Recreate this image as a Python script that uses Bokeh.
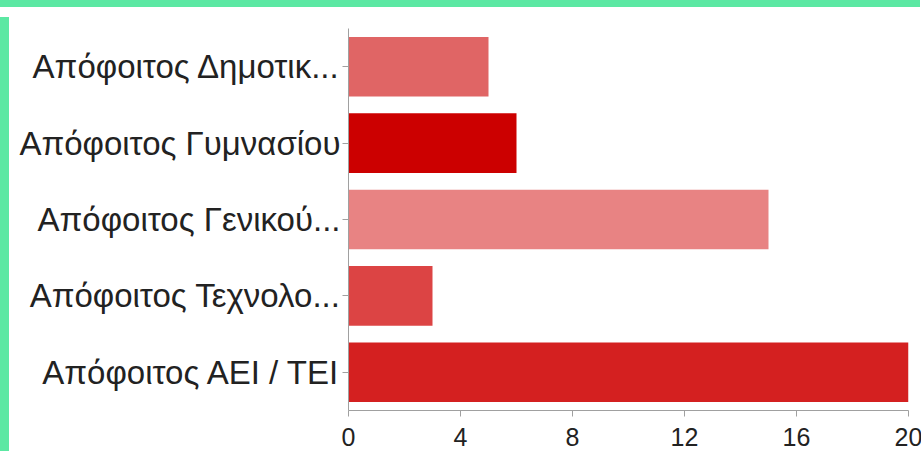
from bokeh.plotting import figure
from bokeh.models import FactorRange, Range1d, ColumnDataSource, FixedTicker, Div
from bokeh.layouts import column, row
from bokeh.embed import file_html
from bokeh.resources import INLINE

categories = ["Απόφοιτος Δημοτικ...", "Απόφοιτος Γυμνασίου", "Απόφοιτος Γενικού...",
              "Απόφοιτος Τεχνολο...", "Απόφοιτος ΑΕΙ / ΤΕΙ"]
counts = [5, 6, 15, 3, 20]
colors = ["#e06565", "#cc0000", "#e88383", "#dc4444", "#d42020"]
x_ticks = [0, 4, 8, 12, 16, 20]

GREEN = "#5ce8a3"

src = ColumnDataSource(dict(cat=categories, n=counts, color=colors))

p = figure(width=909, height=441, output_backend="svg", toolbar_location=None,
           y_range=FactorRange(factors=list(reversed(categories)), range_padding=0),
           x_range=Range1d(0, 20),
           min_border_left=334, min_border_right=15, min_border_top=16, min_border_bottom=43)
p.hbar(y="cat", right="n", left=0, height=0.78, color="color", line_color=None, source=src)

p.xgrid.visible = False
p.ygrid.visible = False
p.outline_line_color = None
p.background_fill_color = "white"
p.border_fill_color = "white"

p.xaxis.ticker = FixedTicker(ticks=x_ticks)
p.xaxis.minor_tick_line_color = None
p.xaxis.major_tick_in = 0
p.xaxis.major_tick_out = 6
p.xaxis.axis_line_color = "#a0a0a0"
p.xaxis.major_tick_line_color = "#a0a0a0"
p.xaxis.major_label_text_font = "Liberation Sans"
p.xaxis.major_label_text_font_size = "25px"
p.xaxis.major_label_text_color = "#222222"
p.xaxis.major_label_standoff = 11

p.yaxis.major_tick_in = 0
p.yaxis.major_tick_out = 6
p.yaxis.axis_line_color = "#a0a0a0"
p.yaxis.major_tick_line_color = "#a0a0a0"
p.yaxis.major_label_text_font = "Liberation Sans"
p.yaxis.major_label_text_font_size = "33px"
p.yaxis.major_label_text_color = "#222222"
p.yaxis.major_label_standoff = 2

top_strip = Div(width=925, height=12, styles={"background-color": GREEN})
left_strip = Div(width=14, height=441, styles={"background-color": GREEN})
layout = column(top_strip, row(left_strip, p),
                styles={"margin-left": "-10px", "margin-top": "-10px"})

open("out.html", "w").write(file_html(layout, INLINE))
